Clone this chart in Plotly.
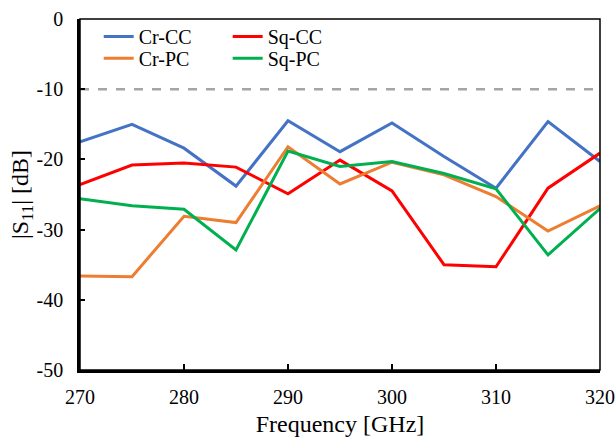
import plotly.graph_objects as go

# Frequency sweep points (GHz)
freq = [270, 275, 280, 285, 290, 295, 300, 305, 310, 315, 320]

# |S11| in dB for each configuration
cr_cc = [-17.5, -15.0, -18.4, -23.8, -14.5, -18.9, -14.8, -19.6, -24.1, -14.6, -20.3]
sq_cc = [-23.6, -20.8, -20.5, -21.1, -24.9, -20.1, -24.5, -35.0, -35.3, -24.1, -19.1]
cr_pc = [-36.6, -36.7, -28.1, -29.0, -18.2, -23.5, -20.4, -22.2, -25.3, -30.2, -26.6]
sq_pc = [-25.6, -26.6, -27.1, -32.9, -18.8, -21.0, -20.3, -22.0, -24.2, -33.6, -27.0]

threshold = -10

x_ticks = [270, 280, 290, 300, 310, 320]
y_ticks = [0, -10, -20, -30, -40, -50]
y_tick_labels = ["0", "-10", "-20", "-30", "-40", "-50"]

FONT = "Liberation Serif, Times New Roman, serif"

# name, values, colour, legend slot (each entry has its own legend box)
series = [
    ("Cr-CC", cr_cc, "#4472C4", "legend"),
    ("Sq-CC", sq_cc, "#FF0000", "legend2"),
    ("Cr-PC", cr_pc, "#ED7D31", "legend3"),
    ("Sq-PC", sq_pc, "#00B050", "legend4"),
]

fig = go.Figure()

# -10 dB reference line
fig.add_trace(go.Scatter(
    x=[freq[0], freq[-1]], y=[threshold, threshold], mode="lines",
    line=dict(color="#A5A5A5", width=2.5, dash="dash"),
    showlegend=False, hoverinfo="skip",
))

for name, vals, color, leg in series:
    fig.add_trace(go.Scatter(
        x=freq, y=vals, mode="lines", name=name,
        line=dict(color=color, width=3),
        legend=leg,
    ))

legend_style = dict(
    bgcolor="rgba(0,0,0,0)", font=dict(family=FONT, size=20, color="black"),
    yanchor="middle", xanchor="left", itemwidth=30,
)
col1, col2 = 0.036, 0.284
row1, row2 = 0.950, 0.888

fig.update_layout(
    width=615, height=437,
    margin=dict(l=80, r=15, t=19, b=67, autoexpand=False),
    paper_bgcolor="white", plot_bgcolor="white",
    font=dict(family=FONT, size=20, color="black"),
    legend=dict(x=col1, y=row1, **legend_style),
    legend2=dict(x=col2, y=row1, **legend_style),
    legend3=dict(x=col1, y=row2, **legend_style),
    legend4=dict(x=col2, y=row2, **legend_style),
    xaxis=dict(
        range=[270, 320], tickvals=x_ticks, ticks="inside", ticklen=6,
        tickwidth=1.5, tickcolor="black", ticklabelstandoff=7,
        ticklabeloverflow="allow",
        showline=True, linecolor="black", linewidth=2.5,
        showgrid=False, zeroline=False, automargin=False,
        title=dict(text="Frequency [GHz]", standoff=11),
    ),
    yaxis=dict(
        range=[-50, 0], tickvals=y_ticks, ticktext=y_tick_labels,
        ticks="inside", ticklen=5, tickwidth=1.5, tickcolor="black",
        ticklabelstandoff=10,
        showline=True, linecolor="black", linewidth=2.5,
        showgrid=False, zeroline=False, automargin=False,
        title=dict(text="|S<sub>11</sub>| [dB]", standoff=2),
    ),
    shapes=[dict(
        type="rect", xref="paper", yref="paper", x0=0, x1=1, y0=0, y1=1,
        line=dict(color="black", width=1.5), layer="above",
    )],
)

fig.write_html("out.html")
